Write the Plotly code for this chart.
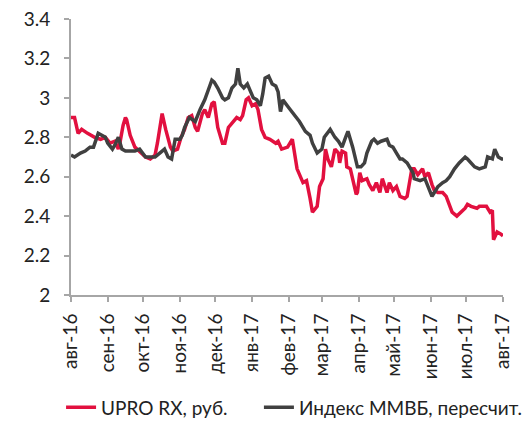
import plotly.graph_objects as go

tick_dates = ["2016-08-01", "2016-09-01", "2016-10-01", "2016-11-01", "2016-12-01",
              "2017-01-01", "2017-02-01", "2017-03-01", "2017-04-01", "2017-05-01",
              "2017-06-01", "2017-07-01", "2017-08-01"]
tick_labels = ["авг-16", "сен-16", "окт-16", "ноя-16", "дек-16", "янв-17", "фев-17",
               "мар-17", "апр-17", "май-17", "июн-17", "июл-17", "авг-17"]

upro_dates = [
    "2016-08-01", "2016-08-04", "2016-08-07", "2016-08-10", "2016-08-15", "2016-08-21",
    "2016-08-26", "2016-08-30", "2016-09-03", "2016-09-07", "2016-09-10", "2016-09-11",
    "2016-09-14", "2016-09-16", "2016-09-17", "2016-09-20", "2016-09-24", "2016-09-28",
    "2016-10-03", "2016-10-07", "2016-10-11", "2016-10-13", "2016-10-17", "2016-10-20",
    "2016-10-24", "2016-10-26", "2016-10-30", "2016-11-02", "2016-11-05", "2016-11-08",
    "2016-11-11", "2016-11-14", "2016-11-16", "2016-11-20", "2016-11-22", "2016-11-25",
    "2016-11-28", "2016-11-30", "2016-12-03", "2016-12-07", "2016-12-09", "2016-12-12",
    "2016-12-16", "2016-12-19", "2016-12-22", "2016-12-24", "2016-12-27", "2016-12-29",
    "2017-01-01", "2017-01-04", "2017-01-06", "2017-01-09", "2017-01-12", "2017-01-16",
    "2017-01-21", "2017-01-23", "2017-01-26", "2017-01-31", "2017-02-04", "2017-02-08",
    "2017-02-13", "2017-02-16", "2017-02-19", "2017-02-21", "2017-02-25", "2017-02-27",
    "2017-03-02", "2017-03-04", "2017-03-06", "2017-03-09", "2017-03-12", "2017-03-15",
    "2017-03-16", "2017-03-18", "2017-03-21", "2017-03-22", "2017-03-25", "2017-03-27",
    "2017-03-30", "2017-03-31", "2017-04-02", "2017-04-04", "2017-04-08", "2017-04-10",
    "2017-04-13", "2017-04-16", "2017-04-19", "2017-04-21", "2017-04-25", "2017-04-27",
    "2017-04-30", "2017-05-03", "2017-05-06", "2017-05-10", "2017-05-12", "2017-05-16",
    "2017-05-18", "2017-05-21", "2017-05-25", "2017-05-27", "2017-05-30", "2017-06-02",
    "2017-06-04", "2017-06-07", "2017-06-11", "2017-06-14", "2017-06-17", "2017-06-19",
    "2017-06-23", "2017-06-27", "2017-06-30", "2017-07-02", "2017-07-05", "2017-07-10",
    "2017-07-12", "2017-07-15", "2017-07-18", "2017-07-21", "2017-07-23", "2017-07-24",
    "2017-07-27", "2017-07-30", "2017-08-01"]
upro_values = [
    2.90, 2.90, 2.82, 2.84, 2.82, 2.80,
    2.79, 2.80, 2.77, 2.78, 2.74, 2.76,
    2.86, 2.90, 2.89, 2.81, 2.75, 2.73,
    2.70, 2.69, 2.71, 2.77, 2.92, 2.84,
    2.75, 2.73, 2.74, 2.80, 2.84, 2.90,
    2.91, 2.85, 2.83, 2.92, 2.94, 2.90,
    2.97, 2.98, 2.85, 2.77, 2.77, 2.85,
    2.88, 2.90, 2.89, 2.91, 2.99, 3.00,
    2.96, 2.97, 2.94, 2.84, 2.80, 2.79,
    2.77, 2.78, 2.74, 2.75, 2.79, 2.64,
    2.57, 2.58, 2.49, 2.42, 2.45, 2.55,
    2.59, 2.74, 2.69, 2.65, 2.74, 2.72,
    2.67, 2.73, 2.72, 2.65, 2.64, 2.59,
    2.51, 2.52, 2.62, 2.58, 2.59, 2.56,
    2.53, 2.57, 2.52, 2.59, 2.52, 2.57,
    2.53, 2.55, 2.50, 2.49, 2.50, 2.64,
    2.64, 2.61, 2.64, 2.60, 2.62, 2.56,
    2.53, 2.52, 2.52, 2.50, 2.45, 2.42,
    2.40, 2.42, 2.44, 2.46, 2.45, 2.44,
    2.45, 2.45, 2.45, 2.42, 2.43, 2.28,
    2.32, 2.31, 2.30]

micex_dates = [
    "2016-08-01", "2016-08-04", "2016-08-09", "2016-08-13", "2016-08-17", "2016-08-20",
    "2016-08-24", "2016-08-27", "2016-08-30", "2016-09-01", "2016-09-05", "2016-09-07",
    "2016-09-10", "2016-09-13", "2016-09-16", "2016-09-20", "2016-09-24", "2016-09-28",
    "2016-10-03", "2016-10-07", "2016-10-11", "2016-10-15", "2016-10-19", "2016-10-22",
    "2016-10-25", "2016-10-28", "2016-11-01", "2016-11-03", "2016-11-05", "2016-11-09",
    "2016-11-14", "2016-11-18", "2016-11-22", "2016-11-25", "2016-11-28", "2016-11-30",
    "2016-12-03", "2016-12-07", "2016-12-09", "2016-12-12", "2016-12-15", "2016-12-18",
    "2016-12-20", "2016-12-22", "2016-12-25", "2016-12-28", "2016-12-31", "2017-01-02",
    "2017-01-05", "2017-01-08", "2017-01-10", "2017-01-12", "2017-01-15", "2017-01-18",
    "2017-01-21", "2017-01-23", "2017-01-25", "2017-01-27", "2017-02-01", "2017-02-05",
    "2017-02-10", "2017-02-15", "2017-02-19", "2017-02-21", "2017-02-25", "2017-03-01",
    "2017-03-03", "2017-03-08", "2017-03-12", "2017-03-15", "2017-03-18", "2017-03-21",
    "2017-03-23", "2017-03-27", "2017-03-29", "2017-03-31", "2017-04-03", "2017-04-06",
    "2017-04-08", "2017-04-12", "2017-04-14", "2017-04-17", "2017-04-20", "2017-04-25",
    "2017-04-27", "2017-04-30", "2017-05-03", "2017-05-06", "2017-05-08", "2017-05-12",
    "2017-05-14", "2017-05-17", "2017-05-18", "2017-05-23", "2017-05-27", "2017-05-30",
    "2017-06-02", "2017-06-04", "2017-06-07", "2017-06-11", "2017-06-14", "2017-06-17",
    "2017-06-21", "2017-06-25", "2017-06-30", "2017-07-02", "2017-07-05", "2017-07-08",
    "2017-07-12", "2017-07-17", "2017-07-19", "2017-07-23", "2017-07-25", "2017-07-28",
    "2017-07-31", "2017-08-02"]
micex_values = [
    2.71, 2.70, 2.72, 2.73, 2.75, 2.75,
    2.82, 2.81, 2.80, 2.77, 2.74, 2.76,
    2.80, 2.74, 2.73, 2.73, 2.73, 2.74,
    2.70, 2.70, 2.70, 2.72, 2.74, 2.70,
    2.69, 2.79, 2.79, 2.81, 2.85, 2.90,
    2.88, 2.94, 2.99, 3.04, 3.09, 3.08,
    3.05, 3.00, 2.99, 3.00, 3.05, 3.07,
    3.15, 3.07, 3.05, 3.07, 3.03, 3.00,
    2.99, 2.96, 3.02, 3.10, 3.11, 3.07,
    3.06, 3.03, 2.93, 2.99, 2.95, 2.92,
    2.88, 2.83, 2.81, 2.77, 2.72, 2.74,
    2.80, 2.84, 2.80, 2.78, 2.75, 2.80,
    2.83, 2.75, 2.69, 2.65, 2.65, 2.67,
    2.72, 2.78, 2.79, 2.77, 2.78, 2.79,
    2.76, 2.75, 2.72, 2.69, 2.69, 2.67,
    2.65, 2.62, 2.59, 2.58, 2.59, 2.55,
    2.50, 2.52, 2.55, 2.57, 2.58, 2.60,
    2.64, 2.67, 2.70, 2.69, 2.67, 2.65,
    2.64, 2.65, 2.70, 2.69, 2.74, 2.70,
    2.69, 2.69]

series_names = ["UPRO RX, руб.", "Индекс ММВБ, пересчит."]
y_ticks = [2, 2.2, 2.4, 2.6, 2.8, 3, 3.2, 3.4]
y_tick_labels = ["2", "2.2", "2.4", "2.6", "2.8", "3", "3.2", "3.4"]

RED = "#E2103F"
GRAY = "#404040"
AXIS = "#A6A6A6"
TEXT = "#222222"
FONT = "Lato"

fig = go.Figure()
fig.add_trace(go.Scatter(x=upro_dates, y=upro_values, mode="lines", name=series_names[0],
                         line=dict(color=RED, width=3.5), legend="legend"))
fig.add_trace(go.Scatter(x=micex_dates, y=micex_values, mode="lines", name=series_names[1],
                         line=dict(color=GRAY, width=3.5), legend="legend2"))

legend_style = dict(orientation="h", yanchor="middle", y=-0.407, xanchor="left",
                    font=dict(family=FONT, size=19, color=TEXT),
                    bgcolor="rgba(0,0,0,0)")

# the page adds an 8px body margin, so the figure is offset by 8px inside the window
fig.update_layout(
    width=522, height=416,
    margin=dict(l=63, r=27, t=11, b=128.5, autoexpand=False),
    paper_bgcolor="white", plot_bgcolor="white",
    font=dict(family=FONT, size=19, color=TEXT),
    showlegend=True,
    legend=dict(x=-0.023, **legend_style),
    legend2=dict(x=0.435, **legend_style),
    xaxis=dict(type="date", range=["2016-08-01", "2017-08-01"],
               tickvals=tick_dates, ticktext=tick_labels, tickangle=-90,
               ticks="outside", ticklen=5, tickwidth=1.5, tickcolor=AXIS,
               showline=True, linecolor=AXIS, linewidth=2,
               showgrid=False, zeroline=False, ticklabelstandoff=4,
               ticklabeloverflow="allow",
               tickfont=dict(family=FONT, size=19, color=TEXT)),
    yaxis=dict(range=[2, 3.4], tickvals=y_ticks, ticktext=y_tick_labels,
               ticks="outside", ticklen=5, tickwidth=1.5, tickcolor=AXIS,
               showline=True, linecolor=AXIS, linewidth=2,
               showgrid=False, zeroline=False, ticklabelstandoff=10,
               ticklabeloverflow="allow",
               tickfont=dict(family=FONT, size=19, color=TEXT)),
)

fig.write_html("out.html")
